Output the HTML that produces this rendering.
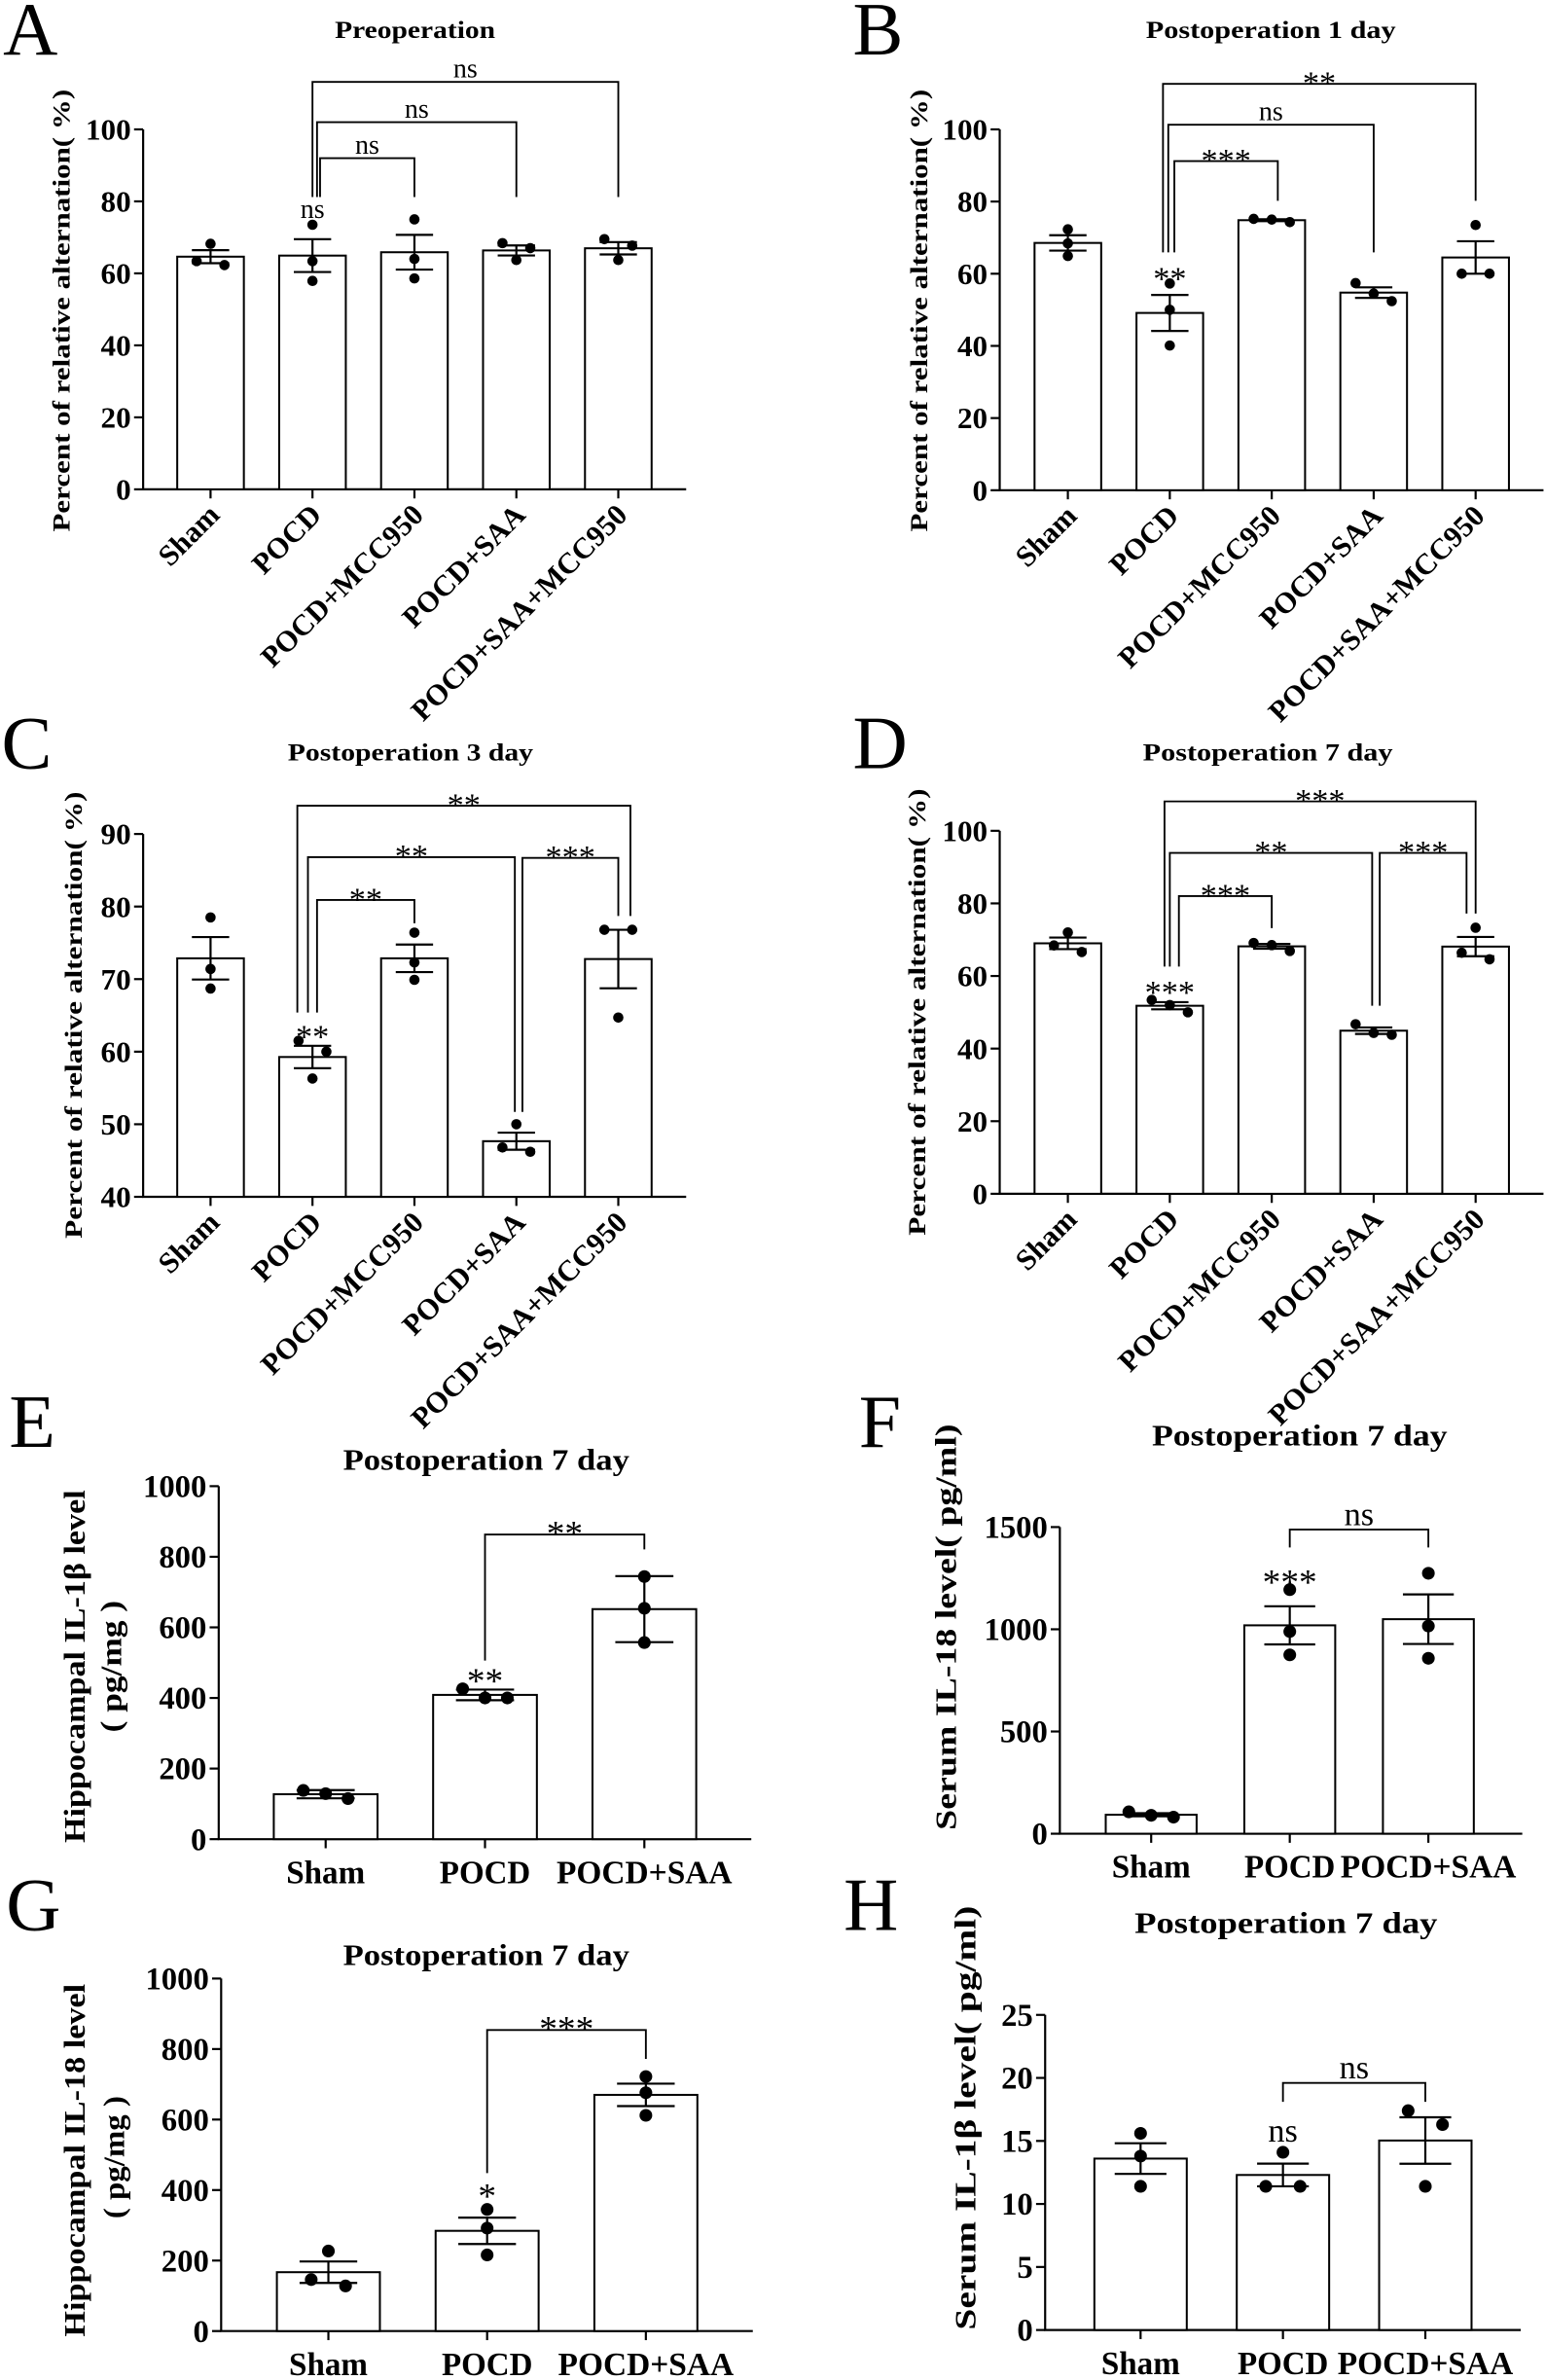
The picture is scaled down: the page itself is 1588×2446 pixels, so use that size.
<!DOCTYPE html>
<html><head><meta charset="utf-8"><style>
html,body{margin:0;padding:0;background:#fff;}
svg{display:block;}
text{font-family:"Liberation Serif",serif;fill:#000;}
</style></head><body>
<svg id="fig" xmlns="http://www.w3.org/2000/svg" width="1588" height="2446" viewBox="0 0 1020 1571" preserveAspectRatio="none"></svg>
<script>
// ---- data ----
const catsFive = ["Sham","POCD","POCD+MCC950","POCD+SAA","POCD+SAA+MCC950"];
const catsThree = ["Sham","POCD","POCD+SAA"];
const ticksPct = [0,20,40,60,80,100];
const ticksC = [40,50,60,70,80,90];
const ticksE = [0,200,400,600,800,1000];
const ticksF = [0,500,1000,1500];
const ticksH = [0,5,10,15,20,25];
const aPts = [[68.2,62.3,63.4],[73.5,63.4,57.9],[75,64,58.6],[68.4,67,63.7],[69.5,67.7,63.7]];
const bPts = [[72.3,68.4,64.9],[57.3,50,40.1],[74.3,75,75.2],[57.4,54.5,52.4],[73.5,60,60]];
const cPts = [[78.5,71.4,68.7],[61.5,60,56.3],[76.4,72.3,69.9],[50,46.2,46.8],[76.8,76.8,64.7]];
const dPts = [[72,68.4,66.6],[53.4,52,50],[69.1,68.5,66.9],[46.7,44.3,43.8],[73.3,66.4,64.6]];
const ePts = [[115,138,129],[400,426,400],[744,654,557]];
const fPts = [[81,107,90],[1194,989,875],[1274,1016,858]];
const gPts = [[227,128,146],[345,292,216],[722,676,612]];
const hPts = [[15.6,13.8,11.4],[14.1,11.4,11.4],[17.4,16.3,11.4]];
// brackets: [fromIdx, toIdx, level, leftLegEnd, rightLegEnd, label]
const aBr = [[1,4,113.2,81.2,81.2,"ns"],[1,3,102,81.2,81.2,"ns"],[1,2,92,81.2,81.2,"ns"]];
const bBr = [[1,4,112.6,65.9,80.2,"**"],[1,3,101.3,65.9,65.9,"ns"],[1,2,91.2,65.9,80.2,"***"]];
const cBr = [[1,4,93.9,65.4,78.7,"**"],[1,3,86.8,65.4,51.7,"**"],[3,4,86.7,51.7,78.7,"***"],[1,2,80.9,65.4,77.7,"**"]];
const dBr = [[1,4,108.1,62.6,77.2,"***"],[1,3,93.9,62.6,51.8,"**"],[3,4,93.9,51.8,77.2,"***"],[1,2,82,62.6,73.2,"***"]];
const eBr = [[1,2,863,506,821,"**"]];
const fBr = [[1,2,1488,1400,1400,"ns"]];
const gBr = [[1,2,854,448,772,"***"]];
const hBr = [[1,2,19.6,18.1,18.1,"ns"]];
// marks above single bars: [idx, value, label]
const aSig = [[1,77.9,"ns"]];
const bSig = [[1,60.4,"**"]];
const cSig = [[1,63,"**"]];
const dSig = [[1,57.3,"***"]];
const eSig = [[1,468,"**"]];
const fSig = [[1,1263,"***"]];
const gSig = [[1,402,"*"]];
const hSig = [[1,15.8,"ns"]];

const svg = document.getElementById('fig');
const NS = "http://www.w3.org/2000/svg";
function mk(tag, attrs, parent){
  const e = document.createElementNS(NS, tag);
  for (const k in attrs) e.setAttribute(k, attrs[k]);
  (parent||svg).appendChild(e);
  return e;
}
function mean(a){return a.reduce((s,v)=>s+v,0)/a.length;}
function sd(a){const m=mean(a);return Math.sqrt(a.reduce((s,v)=>s+(v-m)*(v-m),0)/(a.length-1));}

function panel(p){
  const g = mk('g', {});
  
  
  const vmin=p.ticks[0], vmax=p.ticks[p.ticks.length-1];
  const Y = v => p.y0 - (v - vmin) / (vmax - vmin) * (p.y0 - p.yTop);
  const X = i => p.c0 + i * p.step;
  const L = mk('text', {x:p.lx, y:p.ly, 'font-size':50}, g);
  L.textContent = p.letter;
  
  
  const T = mk('text', {x:p.tx, y:p.ty, 'font-size':p.tfs, 'font-weight':'bold', 'text-anchor':'middle', textLength:p.tlen, lengthAdjust:'spacingAndGlyphs'}, g);
  T.textContent = p.title;
  
  
  p.ylab.forEach(yl => {
    const t = mk('text', {x:0, y:0, 'font-size':yl.fs, 'font-weight':'bold', 'text-anchor':'middle', textLength:yl.len, lengthAdjust:'spacingAndGlyphs', transform:`translate(${yl.x},${yl.y}) rotate(-90)`}, g);
    t.textContent = yl.t;
    
    
  });
  const ya = mk('line', {x1:p.ax, y1:p.yTop, x2:p.ax, y2:p.y0, stroke:'#000', 'stroke-width':1.4}, g);
  
  
  const xa = mk('line', {x1:p.ax-0.7, y1:p.y0, x2:p.axEnd, y2:p.y0, stroke:'#000', 'stroke-width':1.4}, g);
  
  
  p.ticks.forEach(tv => {
    const y = Y(tv);
    const tl = mk('line', {x1:p.ax-6, y1:y, x2:p.ax, y2:y, stroke:'#000', 'stroke-width':1.4}, g);
    
    
    const tt = mk('text', {x:p.ax-8, y:y+p.tkfs*0.34, 'font-size':p.tkfs, 'font-weight':'bold', 'text-anchor':'end'}, g);
    tt.textContent = tv;
    
    
  });
  p.cats.forEach((c, i) => {
    const pts = p.pts[i];
    const m = mean(pts);
    const e = p.err === 'sd' ? sd(pts) : sd(pts)/Math.sqrt(pts.length);
    const cx = X(i);
    const r = mk('rect', {x:cx-p.bw/2, y:Y(m), width:p.bw, height:p.y0-Y(m), fill:'#fff', stroke:'#000', 'stroke-width':1.3}, g);
    
    
    const cw = p.bw*0.28;
    const eb = mk('path', {d:`M${cx},${Y(m+e)}V${Y(m-e)}M${cx-cw},${Y(m+e)}H${cx+cw}M${cx-cw},${Y(m-e)}H${cx+cw}`, stroke:'#000', 'stroke-width':1.4, fill:'none'}, g);
    
    
    // dots: cluster overlapping points and spread them horizontally
    const ys = pts.map(v => Y(v));
    const order = ys.map((y,k)=>k).sort((a,b)=>ys[a]-ys[b]);
    const offs = pts.map(()=>0);
    let clusters = [], cur = [order[0]];
    for (let k=1;k<order.length;k++){
      if (ys[order[k]] - ys[cur[cur.length-1]] < p.dr*2.2) cur.push(order[k]);
      else { clusters.push(cur); cur=[order[k]]; }
    }
    clusters.push(cur);
    const sp = p.dr*2.7;
    clusters.forEach(cl => {
      if (cl.length === 2){ offs[cl[0]] = -sp; offs[cl[1]] = sp; }
      else if (cl.length >= 3){ cl.forEach((k,j)=>{ offs[k] = (j-(cl.length-1)/2)*sp*1.3; }); }
    });
    pts.forEach((v, k) => {
      const d = mk('circle', {cx:cx+offs[k], cy:Y(v), r:p.dr, fill:'#000'}, g);
      
      
    });
    const xt = mk('line', {x1:cx, y1:p.y0, x2:cx, y2:p.y0+6, stroke:'#000', 'stroke-width':1.4}, g);
    
    
    let lab;
    if (p.rot){
      lab = mk('text', {x:0, y:0, 'font-size':19.5, 'font-weight':'bold', 'text-anchor':'end', transform:`translate(${cx+7},${p.y0+18}) rotate(-45)`}, g);
    } else {
      lab = mk('text', {x:cx, y:p.y0+29, 'font-size':22, 'font-weight':'bold', 'text-anchor':'middle', textLength:p.xlen[i], lengthAdjust:'spacingAndGlyphs'}, g);
    }
    lab.textContent = c;
    
    
  });
  p.br.forEach((b, k) => {
    const xl = X(b[0]) + (p.brOff[k] ? p.brOff[k][0] : 0);
    const xr = X(b[1]) + (p.brOff[k] ? p.brOff[k][1] : 0);
    const yl = Y(b[2]);
    const pa = mk('path', {d:`M${xl},${Y(b[3])}V${yl}H${xr}V${Y(b[4])}`, stroke:'#000', 'stroke-width':1.2, fill:'none'}, g);
    
    
    const st = b[5].indexOf('*')>=0;
    const t = mk('text', {x:(xl+xr)/2, y: st ? yl+p.sfs*0.3 : yl-3, 'font-size': st ? p.sfs : p.nsfs, 'text-anchor':'middle'}, g);
    t.textContent = b[5];
    
    
  });
  p.sig.forEach(s => {
    const st = s[2].indexOf('*')>=0;
    const t = mk('text', {x:X(s[0]), y:Y(s[1]) + (st ? p.sfs*0.52 : p.nsfs*0.33), 'font-size': st ? p.sfs : p.nsfs, 'text-anchor':'middle'}, g);
    t.textContent = s[2];
    
    
  });
}

const pctLab = "Percent of relative alternation( %)";
const common5 = {cats:catsFive, bw:44, step:67.3, dr:3.4, tkfs:20, tfs:16.5, rot:true, sfs:22, nsfs:18, err:'sem'};
panel(Object.assign({}, common5, {name:'panel-a', letter:'A', lx:2, ly:36, title:'Preoperation', tx:274, ty:25, tlen:106,
  ticks:ticksPct, pts:aPts, br:aBr, sig:aSig, brOff:[[0,0],[3,0],[5,0]],
  ax:94.5, axEnd:453, y0:323, yTop:85.4, c0:139,
  ylab:[{t:pctLab, x:46, y:205, fs:16, len:292}]}));
panel(Object.assign({}, common5, {name:'panel-b', letter:'B', lx:563, ly:36, title:'Postoperation 1 day', tx:839, ty:25, tlen:165,
  ticks:ticksPct, pts:bPts, br:bBr, sig:bSig, brOff:[[-4.5,0],[-1,0],[3,4]],
  ax:660, axEnd:1019, y0:323.6, yTop:85.4, c0:705,
  ylab:[{t:pctLab, x:612, y:205, fs:16, len:292}]}));
panel(Object.assign({}, common5, {name:'panel-c', letter:'C', lx:1, ly:507, title:'Postoperation 3 day', tx:271, ty:502, tlen:162,
  ticks:ticksC, pts:cPts, br:cBr, sig:cSig, brOff:[[-10,8],[-3,-1],[4,0],[3,0]],
  ax:94.5, axEnd:453, y0:790, yTop:550.5, c0:139,
  ylab:[{t:pctLab, x:54, y:670, fs:16, len:295}]}));
panel(Object.assign({}, common5, {name:'panel-d', letter:'D', lx:563, ly:507, title:'Postoperation 7 day', tx:837, ty:502, tlen:165,
  ticks:ticksPct, pts:dPts, br:dBr, sig:dSig, brOff:[[-3.5,0],[0,-1],[4,-6],[6,0]],
  ax:660, axEnd:1019, y0:788, yTop:548.4, c0:705,
  ylab:[{t:pctLab, x:611, y:668, fs:16, len:295}]}));

const xl3 = [52,60,116];
const common3 = {cats:catsThree, dr:4.2, tkfs:21, tfs:20, rot:false, sfs:24, nsfs:22, xlen:xl3, brOff:[[0,0]]};
panel(Object.assign({}, common3, {name:'panel-e', letter:'E', lx:6, ly:955, title:'Postoperation 7 day', tx:321, ty:970, tlen:189,
  ticks:ticksE, pts:ePts, br:eBr, sig:eSig, err:'sd', bw:68.5, step:105.2,
  ax:144.4, axEnd:496, y0:1214, yTop:981, c0:215,
  ylab:[{t:'Hippocampal IL-1β level', x:56, y:1100, fs:20, len:233},{t:'( pg/mg )', x:80, y:1100, fs:20, len:87}]}));
panel(Object.assign({}, common3, {name:'panel-f', letter:'F', lx:567, ly:955, title:'Postoperation 7 day', tx:858, ty:954, tlen:195,
  ticks:ticksF, pts:fPts, br:fBr, sig:fSig, err:'sem', bw:60, step:91.5,
  ax:699.7, axEnd:1005, y0:1210.4, yTop:1008, c0:760,
  ylab:[{t:'Serum IL-18 level( pg/ml)', x:631, y:1074, fs:20, len:268}]}));
panel(Object.assign({}, common3, {name:'panel-g', letter:'G', lx:4, ly:1274, title:'Postoperation 7 day', tx:321, ty:1297, tlen:189,
  ticks:ticksE, pts:gPts, br:gBr, sig:gSig, err:'sem', bw:68, step:104.8,
  ax:146, axEnd:497, y0:1538.7, yTop:1306, c0:216.8,
  ylab:[{t:'Hippocampal IL-18 level', x:56, y:1426, fs:20, len:233},{t:'( pg/mg )', x:82, y:1424, fs:20, len:81}]}));
panel(Object.assign({}, common3, {name:'panel-h', letter:'H', lx:557, ly:1274, title:'Postoperation 7 day', tx:849, ty:1276, tlen:200,
  ticks:ticksH, pts:hPts, br:hBr, sig:hSig, err:'sem', bw:61, step:94,
  ax:690, axEnd:1004, y0:1538, yTop:1330, c0:753,
  ylab:[{t:'Serum IL-1β level( pg/ml)', x:644, y:1398, fs:20, len:280}]}));
</script>
</body></html>
